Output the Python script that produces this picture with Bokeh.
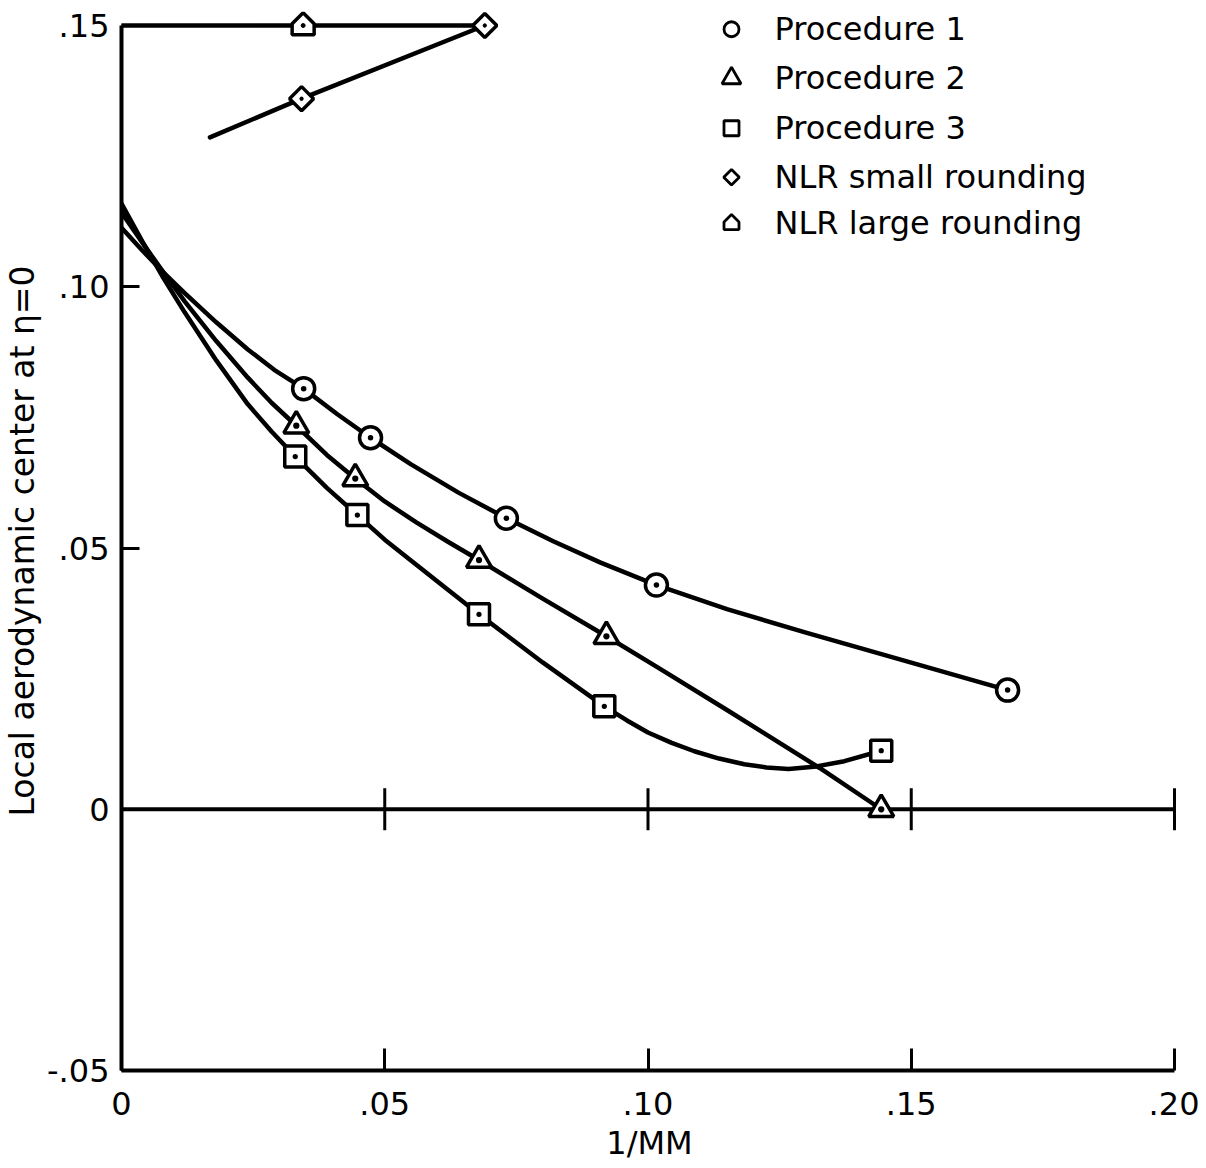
from bokeh.plotting import figure
from bokeh.models import Range1d, FixedTicker
from bokeh.core.properties import value
from bokeh.embed import file_html
from bokeh.resources import INLINE

# ---------------- data ----------------
x_ticks = [0.0, 0.05, 0.10, 0.15, 0.20]
x_tick_labels = ["0", ".05", ".10", ".15", ".20"]
y_ticks = [-0.05, 0.0, 0.05, 0.10, 0.15]
y_tick_labels = ["-.05", "0", ".05", ".10", ".15"]

# Procedure 1 (circles)
p1_x = [0.0346, 0.0473, 0.0731, 0.1016, 0.1683]
p1_y = [0.0805, 0.0711, 0.0557, 0.0429, 0.0228]
# Procedure 2 (triangles)
p2_x = [0.0332, 0.0444, 0.0679, 0.0921, 0.1443]
p2_y = [0.0734, 0.0633, 0.0477, 0.0331, 0.0000]
# Procedure 3 (squares)
p3_x = [0.0330, 0.0448, 0.0679, 0.0917, 0.1443]
p3_y = [0.0675, 0.0563, 0.0373, 0.0197, 0.0112]
# NLR small rounding (diamonds)
nlr_small_x = [0.0342, 0.0690]
nlr_small_y = [0.1360, 0.1500]
# NLR large rounding (house)
nlr_large_x = [0.0345]
nlr_large_y = [0.1500]

# faired curves, points
p1_curve_x = [0.0, 0.004, 0.008, 0.012, 0.018, 0.024, 0.029, 0.0346, 0.041, 0.0473, 0.055, 0.064,
              0.0731, 0.082, 0.091, 0.1016, 0.115, 0.130, 0.145, 0.1683]
p1_curve_y = [0.1113, 0.1069, 0.1027, 0.0988, 0.0932, 0.0880, 0.0841, 0.0805, 0.0756, 0.0711,
              0.0660, 0.0606, 0.0557, 0.0513, 0.0472, 0.0429, 0.0383, 0.0338, 0.0295, 0.0228]
p2_curve_x = [0.0, 0.004, 0.008, 0.012, 0.018, 0.024, 0.0285, 0.0332, 0.039, 0.0444, 0.050,
              0.056, 0.062, 0.0679, 0.080, 0.0921, 0.1016, 0.115, 0.1326, 0.1443]
p2_curve_y = [0.1142, 0.1084, 0.1027, 0.0972, 0.0896, 0.0826, 0.0778, 0.0734, 0.0678, 0.0633,
              0.0589, 0.0549, 0.0512, 0.0477, 0.0403, 0.0331, 0.0273, 0.0190, 0.0079, 0.0000]
p3_curve_x = [0.0, 0.004, 0.008, 0.012, 0.018, 0.024, 0.0285, 0.0330, 0.039, 0.0448, 0.050,
              0.056, 0.062, 0.0679, 0.080, 0.0917, 0.096, 0.100, 0.1045, 0.1088, 0.1135,
              0.1183, 0.1225, 0.1267, 0.132, 0.1373, 0.1443]
p3_curve_y = [0.1159, 0.1086, 0.1016, 0.0951, 0.0859, 0.0775, 0.0723, 0.0675, 0.0615, 0.0563,
              0.0516, 0.0468, 0.0420, 0.0373, 0.0281, 0.0197, 0.0170, 0.0147, 0.0127, 0.0111,
              0.0097, 0.0086, 0.0080, 0.0077, 0.0082, 0.0092, 0.0112]
nlr_small_curve_x = [0.0168, 0.0342, 0.0690]
nlr_small_curve_y = [0.1286, 0.1360, 0.1500]
nlr_large_curve_x = [0.0, 0.0345, 0.0690]
nlr_large_curve_y = [0.1500, 0.1500, 0.1500]

legend_labels = ["Procedure 1", "Procedure 2", "Procedure 3",
                 "NLR small rounding", "NLR large rounding"]

# ---------------- layout ----------------
FONT = "DejaVu Sans"
PX_X = 1053 / 0.20   # pixels per data unit, x
PX_Y = 1045 / 0.20   # pixels per data unit, y
PAD_R = 3
PAD_T = 14

p = figure(
    frame_width=1053 + PAD_R, frame_height=1045 + PAD_T,
    x_range=Range1d(0.0, 0.20 + PAD_R / PX_X),
    y_range=Range1d(-0.05, 0.15 + PAD_T / PX_Y),
    output_backend="svg", toolbar_location=None,
    min_border_left=117, min_border_top=11, min_border_right=22, min_border_bottom=5,
    background_fill_color="white", border_fill_color="white",
)
p.outline_line_color = None
p.xgrid.visible = False
p.ygrid.visible = False

AX_W = 4
for ax, ticks, labels, bnds, tick_in in (
        (p.xaxis[0], x_ticks, x_tick_labels, (x_ticks[0], x_ticks[-1]), 22),
        (p.yaxis[0], y_ticks, y_tick_labels, (y_ticks[0], y_ticks[-1]), 18)):
    ax.ticker = FixedTicker(ticks=ticks)
    ax.major_label_overrides = {t: l for t, l in zip(ticks, labels)}
    ax.bounds = bnds
    ax.axis_line_width = AX_W
    ax.axis_line_color = "black"
    ax.major_tick_in = tick_in
    ax.major_tick_out = 0
    ax.major_tick_line_width = 3
    ax.minor_tick_line_color = None
    ax.major_label_text_font = FONT
    ax.major_label_text_font_size = "32px"
    ax.major_label_text_color = "black"
    ax.axis_label_text_font = FONT
    ax.axis_label_text_font_size = "32px"
    ax.axis_label_text_font_style = "normal"
    ax.axis_label_text_color = "black"

p.xaxis.major_label_standoff = 21
p.xaxis.axis_label = "1/MM"
p.xaxis.axis_label_standoff = 6
p.yaxis.major_label_standoff = 12
p.yaxis.axis_label = "Local aerodynamic center at η=0"
p.yaxis.axis_label_standoff = 2
p.yaxis.axis_label_text_font_size = "33px"

# zero line with crossing ticks
p.line(x=[x_ticks[0], x_ticks[-1]], y=[0, 0], line_color="black", line_width=AX_W)
half = 21 / PX_Y
p.segment(x0=x_ticks[1:], y0=[-half] * 4, x1=x_ticks[1:], y1=[half] * 4,
          line_color="black", line_width=3)

# curves
LW = 4.5
for cx, cy in ((p1_curve_x, p1_curve_y), (p2_curve_x, p2_curve_y), (p3_curve_x, p3_curve_y),
               (nlr_small_curve_x, nlr_small_curve_y), (nlr_large_curve_x, nlr_large_curve_y)):
    p.line(cx, cy, line_color="black", line_width=LW, line_join="round", line_cap="round")

MK = dict(fill_color="white", line_color="black", line_width=3.5)
p.scatter(p1_x, p1_y, marker="circle_dot", size=22, **MK)
p.scatter(p2_x, p2_y, marker="triangle_dot", size=25, **MK)
p.scatter(p3_x, p3_y, marker="square_dot", size=21, **MK)
p.scatter(nlr_small_x, nlr_small_y, marker="square_dot", size=17, angle=0.7853981634, **MK)


def house(xc, yc, w, h):
    """pentagon 'house' outline around a point; w, h in pixels"""
    xs, ys = [], []
    for x0, y0 in zip(xc, yc):
        ox = [-w / 2, w / 2, w / 2, 0, -w / 2]
        oy = [-0.42 * h, -0.42 * h, 0.08 * h, 0.58 * h, 0.08 * h]
        xs.append([x0 + o / PX_X for o in ox])
        ys.append([y0 + o / PX_Y for o in oy])
    return xs, ys


hx, hy = house(nlr_large_x, nlr_large_y, 22, 22)
p.patches(hx, hy, **MK)
p.scatter(nlr_large_x, nlr_large_y, marker="circle", size=4, fill_color="black", line_color="black")

# legend drawn by hand
leg_mx = (730 - 120) / PX_X
leg_tx = (773 - 120) / PX_X
leg_rows = [(808 - py) / PX_Y for py in (28, 77, 127, 176, 222)]
LMK = dict(fill_color="white", line_color="black", line_width=2.8)
p.scatter([leg_mx], [leg_rows[0]], marker="circle", size=15, **LMK)
p.scatter([leg_mx], [leg_rows[1]], marker="triangle", size=19, **LMK)
p.scatter([leg_mx], [leg_rows[2]], marker="square", size=15, **LMK)
p.scatter([leg_mx], [leg_rows[3]], marker="square", size=11, angle=0.7853981634, **LMK)
lhx, lhy = house([leg_mx], [leg_rows[4]], 15, 15)
p.patches(lhx, lhy, **LMK)
p.text(x=[leg_tx] * 5, y=leg_rows, text=legend_labels,
       text_font=value(FONT), text_font_size="32px", text_color="black",
       text_baseline="middle", text_align="left")

open("out.html", "w").write(file_html(p, INLINE))
